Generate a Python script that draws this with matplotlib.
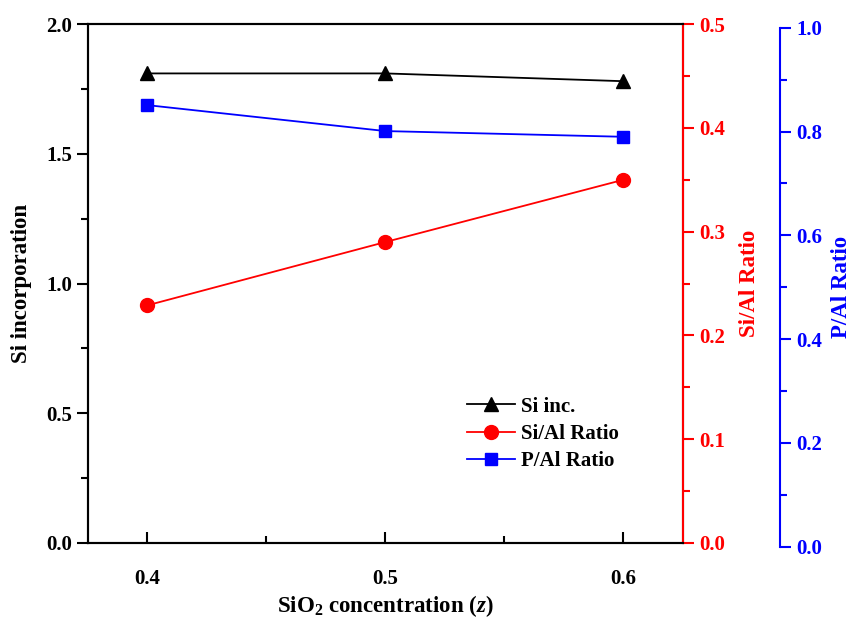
import matplotlib.pyplot as plt
from matplotlib.ticker import MultipleLocator

plt.rcParams['font.family'] = 'Liberation Serif'
plt.rcParams['font.weight'] = 'bold'
plt.rcParams['mathtext.fontset'] = 'custom'
plt.rcParams['mathtext.rm'] = 'Liberation Serif:bold'
plt.rcParams['mathtext.it'] = 'Liberation Serif:italic:bold'

sio2 = [0.4, 0.5, 0.6]
si_inc = [1.81, 1.81, 1.78]
si_al = [0.229, 0.290, 0.350]
p_al = [0.851, 0.801, 0.790]

fig = plt.figure(figsize=(8.5, 6.19), dpi=100)
ax = fig.add_axes([0.1035, 0.123, 0.7, 0.838])
ax2 = ax.twinx()
# third axis sits a few pixels lower than the others, like the original
ax3 = fig.add_axes([0.1035, 0.117, 0.7, 0.838], sharex=ax)
ax3.patch.set_visible(False)
for side in ('left', 'top', 'bottom'):
    ax3.spines[side].set_visible(False)
ax3.spines['right'].set_position(('outward', 70))
ax3.yaxis.set_label_position('right')
ax3.yaxis.tick_right()
ax3.tick_params(axis='x', which='both', bottom=False, labelbottom=False)

l1, = ax.plot(sio2, si_inc, color='black', marker='^', markersize=10, lw=1.3, label='Si inc.')
l2, = ax2.plot(sio2, si_al, color='red', marker='o', markersize=10, lw=1.3, label='Si/Al Ratio')
l3, = ax3.plot(sio2, p_al, color='blue', marker='s', markersize=8.5, lw=1.3, label='P/Al Ratio')

ax.set_xlim(0.375, 0.625)
ax.set_ylim(0, 2.0)
ax2.set_ylim(0, 0.5)
ax3.set_ylim(0, 1.0)

ax.xaxis.set_major_locator(MultipleLocator(0.1))
ax.xaxis.set_minor_locator(MultipleLocator(0.05))
ax.yaxis.set_major_locator(MultipleLocator(0.5))
ax.yaxis.set_minor_locator(MultipleLocator(0.25))
ax2.yaxis.set_major_locator(MultipleLocator(0.1))
ax2.yaxis.set_minor_locator(MultipleLocator(0.05))
ax3.yaxis.set_major_locator(MultipleLocator(0.2))
ax3.yaxis.set_minor_locator(MultipleLocator(0.1))

for a in (ax, ax2, ax3):
    for s in a.spines.values():
        s.set_linewidth(1.5)

ax.tick_params(axis='x', which='major', direction='in', length=8, width=1.5, labelsize=15, pad=19)
ax.tick_params(axis='x', which='minor', direction='in', length=5, width=1.5)
ax.tick_params(axis='y', which='major', direction='out', length=8, width=1.5, labelsize=15)
ax.tick_params(axis='y', which='minor', direction='out', length=5, width=1.5)

ax2.spines['right'].set_color('red')
ax2.tick_params(axis='y', which='major', direction='out', length=8, width=1.5, labelsize=15, colors='red')
ax2.tick_params(axis='y', which='minor', direction='out', length=5, width=1.5, colors='red')

ax3.spines['right'].set_color('blue')
ax3.tick_params(axis='y', which='major', direction='out', length=8, width=1.5, labelsize=15, colors='blue')
ax3.tick_params(axis='y', which='minor', direction='out', length=5, width=1.5, colors='blue')

ax.set_xlabel('SiO$_2$ concentration ($z$)', fontsize=16.5, fontweight='bold', labelpad=3)
ax.set_ylabel('Si incorporation', fontsize=16.5, fontweight='bold', labelpad=10)
ax2.set_ylabel('Si/Al Ratio', fontsize=16.5, fontweight='bold', color='red', labelpad=10)
ax3.set_ylabel('P/Al Ratio', fontsize=16.5, fontweight='bold', color='blue', labelpad=6)

ax.legend(handles=[l1, l2, l3], loc='upper left', bbox_to_anchor=(0.605, 0.318),
          frameon=False, fontsize=15, handlelength=2.3, handletextpad=0.3,
          labelspacing=0.35)

fig.savefig('out.png', dpi=100)
